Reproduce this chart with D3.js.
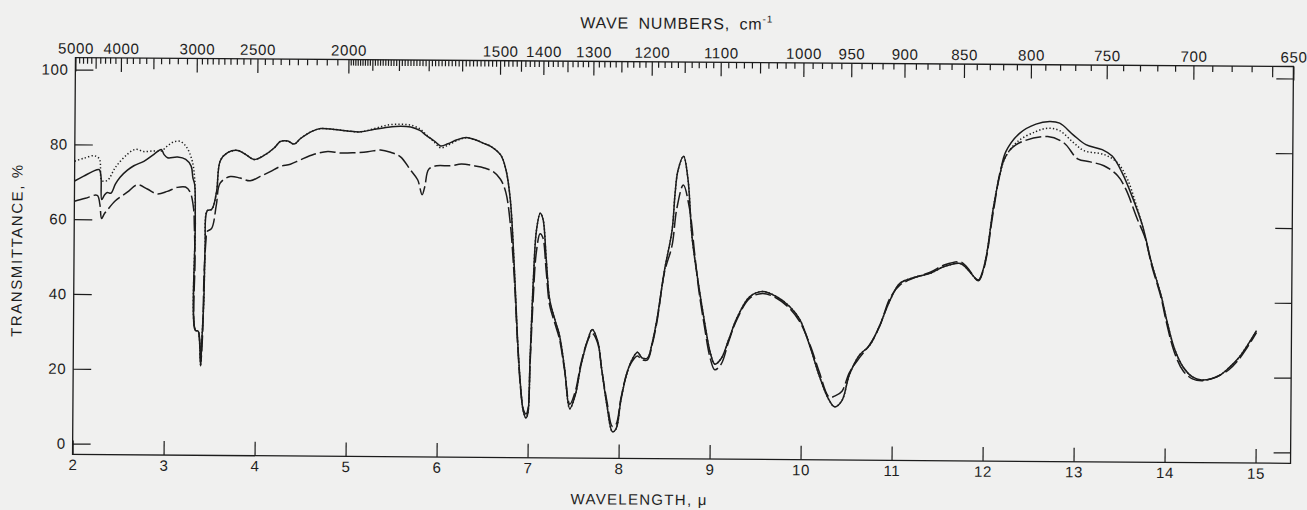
<!DOCTYPE html>
<html>
<head>
<meta charset="utf-8">
<script src="https://cdn.jsdelivr.net/npm/d3@7"></script>
<style>
  body { margin: 0; background: #f0f0ef; }
  svg { display: block; }
  text { font-family: "Liberation Sans", Arial, sans-serif; fill: #1e1e1e; }
</style>
</head>
<body>
<svg id="chart"></svg>
<script>
// wavelength (microns) and transmittance (%)
const solidWavelength = [2.00, 2.10, 2.20, 2.27, 2.29, 2.30, 2.33, 2.36, 2.40, 2.45, 2.50, 2.58, 2.65, 2.76, 2.87, 2.95, 2.98, 3.02, 3.13, 3.22, 3.28, 3.30, 3.32, 3.33, 3.34, 3.37, 3.385, 3.40, 3.41, 3.43, 3.44, 3.46, 3.51, 3.56, 3.60, 3.68, 3.79, 3.88, 3.97, 4.08, 4.19, 4.26, 4.34, 4.41, 4.48, 4.61, 4.70, 4.85, 5.00, 5.14, 5.29, 5.44, 5.58, 5.69, 5.79, 5.86, 5.95, 6.02, 6.10, 6.20, 6.30, 6.40, 6.50, 6.57, 6.68, 6.74, 6.79, 6.84, 6.88, 6.92, 6.95, 6.98, 7.00, 7.02, 7.05, 7.08, 7.12, 7.15, 7.19, 7.23, 7.29, 7.34, 7.40, 7.46, 7.52, 7.58, 7.65, 7.70, 7.76, 7.81, 7.87, 7.93, 7.97, 8.02, 8.08, 8.14, 8.20, 8.25, 8.31, 8.36, 8.41, 8.49, 8.57, 8.60, 8.63, 8.69, 8.74, 8.79, 8.87, 8.93, 9.00, 9.05, 9.12, 9.20, 9.29, 9.43, 9.57, 9.72, 9.87, 9.98, 10.10, 10.20, 10.30, 10.37, 10.45, 10.53, 10.64, 10.75, 10.86, 10.97, 11.08, 11.24, 11.41, 11.57, 11.74, 11.81, 11.94, 11.99, 12.03, 12.10, 12.17, 12.23, 12.38, 12.56, 12.71, 12.82, 12.97, 13.11, 13.29, 13.40, 13.51, 13.62, 13.74, 13.84, 13.95, 14.01, 14.10, 14.20, 14.30, 14.40, 14.50, 14.60, 14.70, 14.80, 14.90, 15.00];
const solidT = [70.2, 71.5, 72.8, 73.3, 71.5, 65.3, 66.5, 67.2, 67.0, 69.5, 71.3, 73.2, 74.4, 75.6, 77.5, 78.8, 77.5, 76.6, 76.8, 76.2, 74.4, 71.3, 69.5, 59.7, 30.5, 30.3, 28, 21, 27, 38.6, 52.8, 62.5, 62.9, 67.4, 75.9, 78.1, 78.7, 77.6, 76.3, 77.4, 79.4, 81.2, 81.3, 80.5, 82.0, 84.0, 84.7, 84.5, 84.1, 83.9, 84.6, 85.2, 85.5, 85.3, 84.4, 83.1, 81.6, 80.3, 80.9, 82.0, 82.6, 82.0, 81.0, 80.3, 78.0, 74.0, 66.0, 47.5, 29.0, 15.5, 9.5, 7.7, 9.0, 23.5, 45, 58, 62.5, 61, 50, 39.5, 34, 30, 21, 10.3, 14, 22, 28.5, 31.5, 28.5, 20.5, 11, 4.2, 5, 12.5, 19.5, 23.5, 25.5, 24, 24, 28, 34.2, 47.5, 58.2, 68, 74.2, 78, 72, 56.4, 43, 34.3, 25.5, 22.5, 24, 29, 34.9, 40.6, 42, 40.7, 38, 34.6, 27, 19.5, 13.5, 11.3, 13, 19.9, 25.2, 27.8, 33.2, 39.9, 44.5, 46.1, 47.2, 49.1, 49.9, 48.6, 45.5, 48.2, 52.6, 65.1, 74, 79.8, 84.8, 87.3, 88, 87.6, 84.5, 81.9, 80.6, 78.9, 74.5, 68.3, 60.3, 50.5, 41.6, 35.4, 27.5, 22.5, 20, 19.2, 19.5, 20.5, 22.5, 25, 28.5, 32.5];

const dottedWavelength = [2.00, 2.10, 2.21, 2.27, 2.30, 2.36, 2.45, 2.58, 2.67, 2.76, 2.87, 2.95, 3.02, 3.09, 3.16, 3.23, 3.29, 3.32, 3.33, 3.34, 3.37, 3.385, 3.40, 3.41, 3.43, 3.44, 3.46, 3.51, 3.56, 3.60, 3.68, 3.79, 3.88, 3.97, 4.08, 4.19, 4.26, 4.34, 4.41, 4.48, 4.61, 4.70, 4.85, 5.00, 5.14, 5.29, 5.44, 5.58, 5.69, 5.79, 5.86, 5.95, 6.02, 6.10, 6.20, 6.30, 6.40, 6.50, 6.57, 6.68, 6.74, 6.79, 6.84, 6.88, 6.92, 6.95, 6.98, 7.00, 7.02, 7.05, 7.08, 7.12, 7.15, 7.19, 7.23, 7.29, 7.34, 7.40, 7.46, 7.52, 7.58, 7.65, 7.70, 7.76, 7.81, 7.87, 7.93, 7.97, 8.02, 8.08, 8.14, 8.20, 8.25, 8.31, 8.36, 8.41, 8.49, 8.57, 8.60, 8.63, 8.69, 8.74, 8.79, 8.87, 8.93, 9.00, 9.05, 9.12, 9.20, 9.29, 9.43, 9.57, 9.72, 9.87, 9.98, 10.10, 10.20, 10.30, 10.37, 10.45, 10.53, 10.64, 10.75, 10.86, 10.97, 11.08, 11.24, 11.41, 11.57, 11.74, 11.81, 11.94, 11.99, 12.03, 12.10, 12.17, 12.23, 12.36, 12.56, 12.69, 12.82, 12.97, 13.09, 13.31, 13.46, 13.57, 13.66, 13.74, 13.84, 13.95, 14.01, 14.10, 14.20, 14.30, 14.40, 14.50, 14.60, 14.70, 14.80, 14.90, 15.00];
const dottedT = [75.5, 76.3, 77, 76.2, 70.4, 70.4, 74, 77.5, 78.8, 78.2, 78.4, 78.4, 79.8, 80.9, 81, 79.4, 75.9, 71, 59.7, 30.5, 30.3, 28, 21, 27, 38.6, 52.8, 62.5, 62.9, 67.4, 75.9, 78.1, 78.7, 77.6, 76.3, 77.4, 79.4, 81.2, 81.3, 80.5, 82.0, 84.0, 84.7, 84.5, 84.1, 83.9, 84.8, 85.8, 86.0, 85.8, 84.8, 83.3, 81.3, 79.8, 80.5, 81.8, 82.5, 82.0, 81.0, 80.3, 78.0, 74.0, 66.0, 47.5, 29.0, 15.5, 9.5, 7.7, 9.0, 23.5, 45, 58, 62.5, 61, 50, 39.5, 34, 30, 21, 10.3, 14, 22, 28.5, 31.5, 28.5, 20.5, 11, 4.2, 5, 12.5, 19.5, 23.5, 25.5, 24, 24, 28, 34.2, 47.5, 58.2, 68, 74.2, 78, 72, 56.4, 43, 34.3, 25.5, 22.5, 24, 29, 34.9, 40.6, 42, 40.7, 38, 34.6, 27, 19.5, 13.5, 11.3, 13, 19.9, 25.2, 27.8, 33.2, 39.9, 44.5, 46.1, 47.2, 49.1, 49.9, 48.6, 45.5, 48.2, 52.6, 65.1, 74, 78.5, 82.6, 85.3, 86.2, 85.6, 82.5, 80.3, 79.3, 77.1, 72.7, 66.5, 60.0, 50.5, 41.6, 35.4, 27.5, 22.5, 20, 19.2, 19.5, 20.5, 22.5, 25, 28.5, 32.5];

const dashedWavelength = [2.00, 2.12, 2.25, 2.28, 2.30, 2.33, 2.36, 2.45, 2.58, 2.69, 2.80, 2.91, 3.02, 3.13, 3.22, 3.27, 3.31, 3.32, 3.33, 3.34, 3.37, 3.40, 3.42, 3.43, 3.45, 3.46, 3.51, 3.56, 3.60, 3.71, 3.82, 3.93, 4.04, 4.15, 4.26, 4.37, 4.48, 4.63, 4.78, 4.92, 5.07, 5.22, 5.36, 5.47, 5.58, 5.69, 5.77, 5.82, 5.85, 5.89, 5.98, 6.13, 6.25, 6.40, 6.50, 6.60, 6.68, 6.74, 6.79, 6.84, 6.88, 6.92, 6.95, 6.98, 7.00, 7.02, 7.05, 7.08, 7.12, 7.15, 7.19, 7.23, 7.29, 7.34, 7.40, 7.46, 7.52, 7.58, 7.65, 7.70, 7.76, 7.81, 7.87, 7.93, 7.97, 8.02, 8.08, 8.14, 8.20, 8.25, 8.31, 8.36, 8.41, 8.49, 8.57, 8.62, 8.69, 8.76, 8.82, 8.87, 8.93, 9.00, 9.05, 9.12, 9.20, 9.29, 9.43, 9.57, 9.72, 9.87, 9.98, 10.10, 10.20, 10.31, 10.38, 10.45, 10.53, 10.64, 10.75, 10.86, 10.97, 11.08, 11.24, 11.41, 11.57, 11.74, 11.81, 11.94, 11.99, 12.03, 12.10, 12.21, 12.34, 12.69, 12.87, 13.02, 13.16, 13.31, 13.46, 13.55, 13.68, 13.77, 13.84, 13.95, 14.01, 14.10, 14.20, 14.30, 14.40, 14.50, 14.60, 14.70, 14.80, 14.90, 15.00];
const dashedT = [64.8, 65.6, 66.4, 64, 60.2, 61.5, 62.4, 65, 67.3, 69.3, 68.2, 66.9, 67.6, 68.7, 68.8, 67.5, 63.1, 58.2, 50, 30.5, 30.3, 22, 30, 45, 55, 56.9, 57.8, 64.1, 69.9, 71.7, 71.3, 70.6, 71.8, 73.1, 74.5, 75.1, 76.3, 77.8, 78.6, 78.2, 78.3, 78.6, 79.1, 78.5, 77.3, 73.8, 71.2, 67.2, 69.5, 74, 75, 75, 75.5, 75, 74.5, 73.5, 71.5, 68, 60, 45, 28, 15, 10, 8.8, 10, 22, 40, 52, 57, 56, 47, 38, 33, 29, 20.5, 11.5, 15, 22.5, 28.5, 30.5, 28, 20.5, 12, 5.6, 6.2, 13, 19.5, 23, 24.5, 23.5, 23.5, 27.5, 33.5, 47, 54, 64, 70.3, 64, 52, 42, 33, 24, 21, 22.5, 28.5, 34.5, 40.2, 41.5, 40.3, 37.5, 34, 27.5, 20.5, 13.9, 14.3, 15.5, 20.5, 24.5, 28, 33, 40.5, 44, 46, 47.5, 49.5, 50.3, 49, 45.3, 47.8, 52, 64, 77.6, 81.7, 84, 82.3, 78.1, 77.3, 76.3, 73.7, 70.2, 62.2, 57, 50, 41, 34.5, 26.5, 21.5, 19.5, 19, 19.5, 20.5, 22, 24.5, 28, 32];

// axis ticks
const wavelengthTicks = [2, 3, 4, 5, 6, 7, 8, 9, 10, 11, 12, 13, 14, 15];
const transmittanceTicks = [0, 20, 40, 60, 80, 100];
const waveNumberLabels = [5000, 4000, 3000, 2500, 2000, 1500, 1400, 1300, 1200, 1100, 1000, 950, 900, 850, 800, 750, 700, 650];
const waveNumberMedium = [4500, 3500, 1900, 1800, 1700, 1600, 1450, 1350, 1250, 1150, 1050, 660];

const width = 1307, height = 510;

const svg = d3.select('#chart')
    .attr('width', width)
    .attr('height', height);

svg.append('rect')
    .attr('width', width)
    .attr('height', height)
    .attr('fill', '#f0f0ef');

// the scanned page is slightly turned
const g = svg.append('g')
    .attr('transform', 'rotate(0.42, 682, 260)');

const x = d3.scaleLinear().domain([2, 15]).range([74, 1257]);
const y = d3.scaleLinear().domain([0, 100]).range([448, 74]);

const xRight = x(10000 / 650);
const yTop = y(103.2), yBottom = y(-2.9);
const ink = '#1c1c1c';

// frame
g.append('rect')
    .attr('x', x(2))
    .attr('y', yTop)
    .attr('width', xRight - x(2))
    .attr('height', yBottom - yTop)
    .attr('fill', 'none')
    .attr('stroke', ink)
    .attr('stroke-width', 1.3);

function styleAxis(sel) {
  sel.select('.domain').remove();
  sel.selectAll('line').attr('stroke', ink).attr('stroke-width', 1.2);
  sel.selectAll('text')
      .attr('font-size', 15)
      .attr('letter-spacing', 0.6)
      .attr('fill', '#1e1e1e')
      .attr('font-family', '"Liberation Sans", Arial, sans-serif');
}

// bottom axis, wavelength
g.append('g')
    .attr('transform', 'translate(0,' + yBottom + ')')
    .call(d3.axisBottom(x).tickValues(wavelengthTicks).tickSize(-14).tickPadding(5).tickFormat(d3.format('d')))
    .call(styleAxis);

// left axis
g.append('g')
    .attr('transform', 'translate(' + x(2) + ',0)')
    .call(d3.axisLeft(y).tickValues(transmittanceTicks).tickSize(-18).tickPadding(7))
    .call(styleAxis);

// right axis, ticks only
g.append('g')
    .attr('transform', 'translate(' + xRight + ',0)')
    .call(d3.axisRight(y).tickValues(transmittanceTicks).tickSize(-17).tickFormat(''))
    .call(styleAxis);

// top axis, wave numbers (reciprocal of wavelength)
const labelSet = new Set(waveNumberLabels.concat(waveNumberMedium));
const minorNumbers = d3.range(5000, 3000, -100)
    .concat(d3.range(3000, 2000, -50))
    .concat(d3.range(2000, 650, -10))
    .filter((d) => !labelSet.has(d));

function topAxis(values, len, labels) {
  g.append('g')
      .attr('transform', 'translate(0,' + yTop + ')')
      .call(d3.axisTop(x)
          .tickValues(values.map((d) => 10000 / d))
          .tickSize(-len)
          .tickPadding(4)
          .tickFormat(labels ? (d) => Math.round(10000 / d) : ''))
      .call(styleAxis);
}
topAxis(minorNumbers, 6, false);
topAxis(waveNumberMedium, 11, false);
topAxis(waveNumberLabels, 14, true);

// axis titles
g.append('text')
    .attr('x', 675)
    .attr('y', 29)
    .attr('text-anchor', 'middle')
    .attr('font-size', 16)
    .attr('letter-spacing', 0.9)
    .attr('word-spacing', 4)
    .text('WAVE NUMBERS, cm')
  .append('tspan')
    .attr('font-size', 10)
    .attr('dy', -7)
    .text('-1');

g.append('text')
    .attr('x', 641)
    .attr('y', 505)
    .attr('text-anchor', 'middle')
    .attr('font-size', 15)
    .attr('letter-spacing', 1.3)
    .text('WAVELENGTH, μ');

g.append('text')
    .attr('transform', 'translate(22,255) rotate(-90)')
    .attr('text-anchor', 'middle')
    .attr('font-size', 15)
    .attr('letter-spacing', 1.6)
    .text('TRANSMITTANCE, %');

// spectra
const line = d3.line()
    .x((d) => x(d[0]))
    .y((d) => y(d[1]))
    .curve(d3.curveCatmullRom.alpha(0.5));

const series = [
  {wl: dashedWavelength, t: dashedT, dash: '16,4'},
  {wl: dottedWavelength, t: dottedT, dash: '1.3,2.2'},
  {wl: solidWavelength, t: solidT, dash: null}
];

series.forEach((s) => {
  g.append('path')
      .datum(d3.zip(s.wl, s.t))
      .attr('d', line)
      .attr('fill', 'none')
      .attr('stroke', ink)
      .attr('stroke-width', 1.5)
      .attr('stroke-dasharray', s.dash);
});
</script>
</body>
</html>
